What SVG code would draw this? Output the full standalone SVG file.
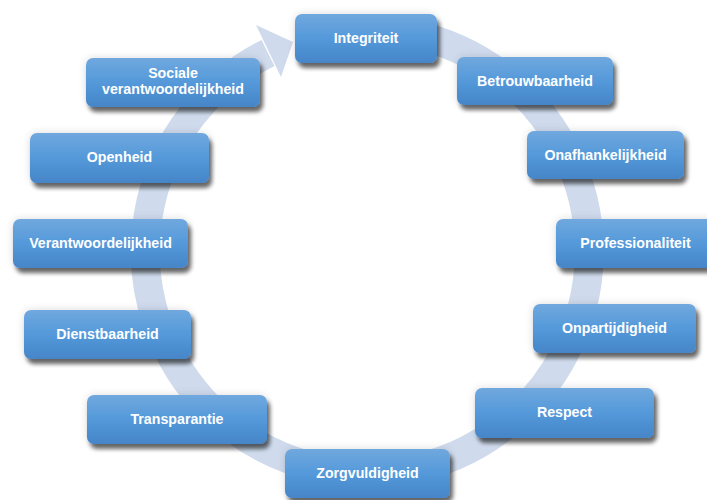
<svg xmlns="http://www.w3.org/2000/svg" width="707" height="500" viewBox="0 0 707 500">
  <defs>
    <linearGradient id="boxGrad" x1="0" y1="0" x2="0" y2="1">
      <stop offset="0" stop-color="#70a8de"/>
      <stop offset="0.5" stop-color="#5499da"/>
      <stop offset="1" stop-color="#4585c8"/>
    </linearGradient>
    <filter id="shadow" x="-15%" y="-30%" width="135%" height="175%">
      <feGaussianBlur in="SourceAlpha" stdDeviation="4" result="halo"/>
      <feComponentTransfer in="halo" result="halo2"><feFuncA type="linear" slope="0.14"/></feComponentTransfer>
      <feGaussianBlur in="SourceAlpha" stdDeviation="2" result="b"/>
      <feOffset in="b" dx="3" dy="5" result="o"/>
      <feComponentTransfer in="o" result="o2"><feFuncA type="linear" slope="0.58"/></feComponentTransfer>
      <feMerge><feMergeNode in="halo2"/><feMergeNode in="o2"/><feMergeNode in="SourceGraphic"/></feMerge>
    </filter>
  </defs>
  <style>
    .box { fill: url(#boxGrad); filter: url(#shadow); }
    .lbl { font-family: "Liberation Sans", Arial, sans-serif; font-weight: bold; font-size: 14.2px; fill: #ffffff; text-anchor: middle; }
    .ring { fill: none; stroke: #cfdbed; stroke-width: 29; }
    .head { fill: #cfdbed; }
  </style>
  <rect width="707" height="500" fill="#ffffff"/>
  <g id="connectors">
    <path class="ring" d="M 400 32 A 222 222 0 1 1 268 53"/>
    <polygon class="head" points="256,25 281,77 293,42"/>
  </g>
  <g id="n-integriteit"><rect class="box" x="295" y="14" width="142" height="49" rx="7"/><text class="lbl" x="366" y="43">Integriteit</text></g>
  <g id="n-betrouwbaarheid"><rect class="box" x="457" y="57" width="156" height="48" rx="7"/><text class="lbl" x="535" y="86">Betrouwbaarheid</text></g>
  <g id="n-onafhankelijkheid"><rect class="box" x="527" y="131" width="157" height="48" rx="7"/><text class="lbl" x="605.5" y="160">Onafhankelijkheid</text></g>
  <g id="n-professionaliteit"><rect class="box" x="556" y="219" width="159" height="49" rx="7"/><text class="lbl" x="635.5" y="248">Professionaliteit</text></g>
  <g id="n-onpartijdigheid"><rect class="box" x="533" y="304" width="163" height="49" rx="7"/><text class="lbl" x="614.5" y="333">Onpartijdigheid</text></g>
  <g id="n-respect"><rect class="box" x="475" y="388" width="179" height="50" rx="7"/><text class="lbl" x="564.5" y="417">Respect</text></g>
  <g id="n-zorgvuldigheid"><rect class="box" x="285" y="449" width="165" height="49" rx="7"/><text class="lbl" x="367.5" y="478">Zorgvuldigheid</text></g>
  <g id="n-transparantie"><rect class="box" x="87" y="395" width="180" height="49" rx="7"/><text class="lbl" x="177" y="424">Transparantie</text></g>
  <g id="n-dienstbaarheid"><rect class="box" x="24" y="310" width="167" height="49" rx="7"/><text class="lbl" x="107.5" y="339">Dienstbaarheid</text></g>
  <g id="n-verantwoordelijkheid"><rect class="box" x="13" y="219" width="175" height="49" rx="7"/><text class="lbl" x="100.5" y="248">Verantwoordelijkheid</text></g>
  <g id="n-openheid"><rect class="box" x="30" y="133" width="179" height="50" rx="7"/><text class="lbl" x="119.5" y="162">Openheid</text></g>
  <g id="n-sociale"><rect class="box" x="86" y="58" width="174" height="49" rx="7"/><text class="lbl" x="173" y="78">Sociale</text><text class="lbl" x="173" y="94">verantwoordelijkheid</text></g>
</svg>
